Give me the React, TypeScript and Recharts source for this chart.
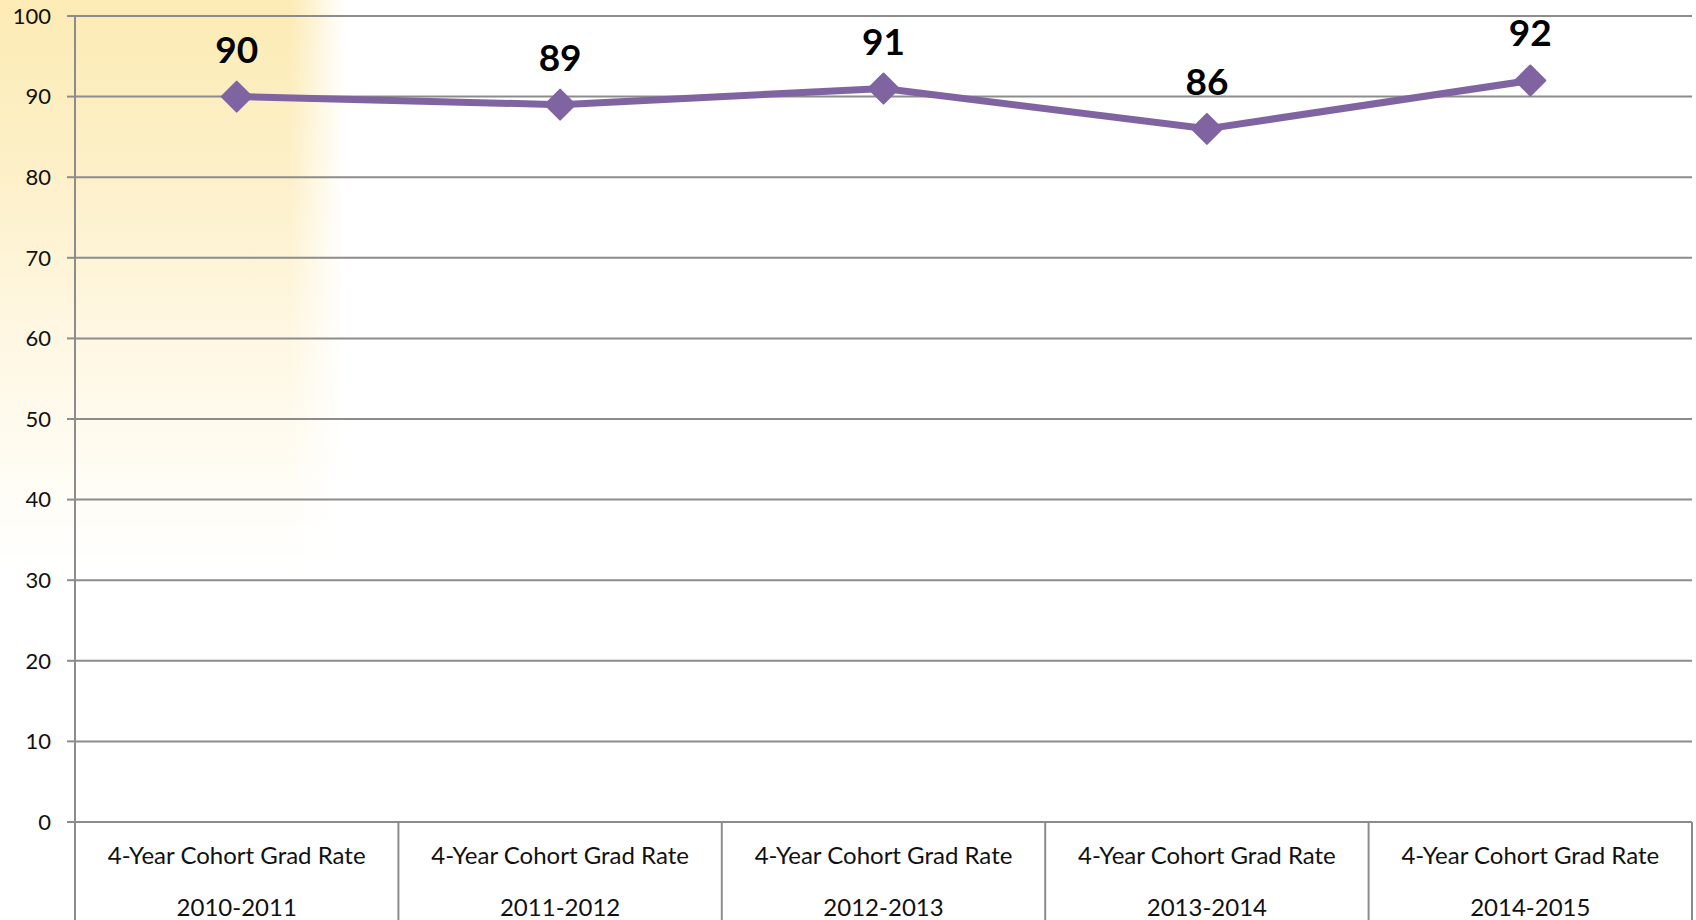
import { LineChart, Line, XAxis, YAxis, CartesianGrid, LabelList } from "recharts";

const years = ["2010-2011", "2011-2012", "2012-2013", "2013-2014", "2014-2015"];
const rates = [90, 89, 91, 86, 92];
const yTicks = [0, 10, 20, 30, 40, 50, 60, 70, 80, 90, 100];
const labelPrefix = "4-Year Cohort Grad Rate";

const data = years.map((y, i) => ({ name: y, rate: rates[i] }));

const W = 1696;
const H = 920;
const Y_AXIS_W = 75;
const RIGHT = 4;
const BAND = (W - Y_AXIS_W - RIGHT) / years.length;
const FONT = "Lato, 'Open Sans', sans-serif";
const GRID = "#8c8c8c";
const PURPLE = "#8064a2";

function Diamond(props: any) {
    const { cx, cy } = props;
    if (cx == null || cy == null) return null;
    const r = 15;
    return (
        <polygon
            points={`${cx},${cy - r} ${cx + r},${cy} ${cx},${cy + r} ${cx - r},${cy}`}
            fill={PURPLE}
            stroke={PURPLE}
            strokeWidth={2}
            strokeLinejoin="round"
        />
    );
}

function XTick(props: any) {
    const { x, y, payload, index } = props;
    const left = x - BAND / 2;
    return (
        <g>
            <line x1={left} y1={y} x2={left} y2={H} stroke={GRID} strokeWidth={2} />
            {index === years.length - 1 && (
                <line x1={x + BAND / 2} y1={y} x2={x + BAND / 2} y2={H} stroke={GRID} strokeWidth={2} />
            )}
            <text x={x} y={y + 42} textAnchor="middle" fontSize={24} fontFamily={FONT} fill="#111">
                {labelPrefix}
            </text>
            <text x={x} y={y + 94} textAnchor="middle" fontSize={24} fontFamily={FONT} fill="#111">
                {payload.value}
            </text>
        </g>
    );
}

function ValueLabel(props: any) {
    const { x, y, value } = props;
    return (
        <text x={x} y={y - 34} textAnchor="middle" fontSize={37} fontWeight={700} fontFamily={FONT} fill="#000">
            {value}
        </text>
    );
}

export default function App() {
    return (
        <div style={{ position: "absolute", left: 0, top: 0, width: W, height: H, background: "#fff", overflow: "hidden" }}>
            {/* soft yellow glow in the top left corner */}
            <div
                style={{
                    position: "absolute",
                    left: 0,
                    top: 0,
                    width: 345,
                    height: 570,
                    background:
                        "linear-gradient(180deg, #fcebb4 0%, #fdf0c8 30%, #fef6df 55%, #fffbf0 78%, rgba(255,255,255,0) 100%)",
                    WebkitMaskImage: "linear-gradient(90deg, #000 84%, transparent 100%)",
                    maskImage: "linear-gradient(90deg, #000 84%, transparent 100%)",
                }}
            />
            <div style={{ position: "absolute", left: 0, top: 0 }}>
                <LineChart width={W} height={H} data={data} margin={{ top: 16, right: RIGHT, left: 0, bottom: 0 }}>
                    <CartesianGrid vertical={false} stroke={GRID} strokeWidth={2} />
                    <XAxis
                        dataKey="name"
                        height={H - 822}
                        padding={{ left: BAND / 2, right: BAND / 2 }}
                        tickLine={false}
                        tickSize={0}
                        tickMargin={0}
                        axisLine={{ stroke: GRID, strokeWidth: 2 }}
                        tick={<XTick />}
                        interval={0}
                    />
                    <YAxis
                        width={Y_AXIS_W}
                        domain={[0, 100]}
                        ticks={yTicks}
                        interval={0}
                        tickSize={8}
                        tickMargin={16}
                        tickLine={{ stroke: GRID, strokeWidth: 2 }}
                        axisLine={{ stroke: GRID, strokeWidth: 2 }}
                        tick={{ fontSize: 22, fontFamily: FONT, fill: "#111" }}
                    />
                    <Line
                        type="linear"
                        dataKey="rate"
                        stroke={PURPLE}
                        strokeWidth={7}
                        dot={<Diamond />}
                        activeDot={false}
                        isAnimationActive={false}
                    >
                        <LabelList dataKey="rate" content={<ValueLabel />} />
                    </Line>
                </LineChart>
            </div>
        </div>
    );
}
